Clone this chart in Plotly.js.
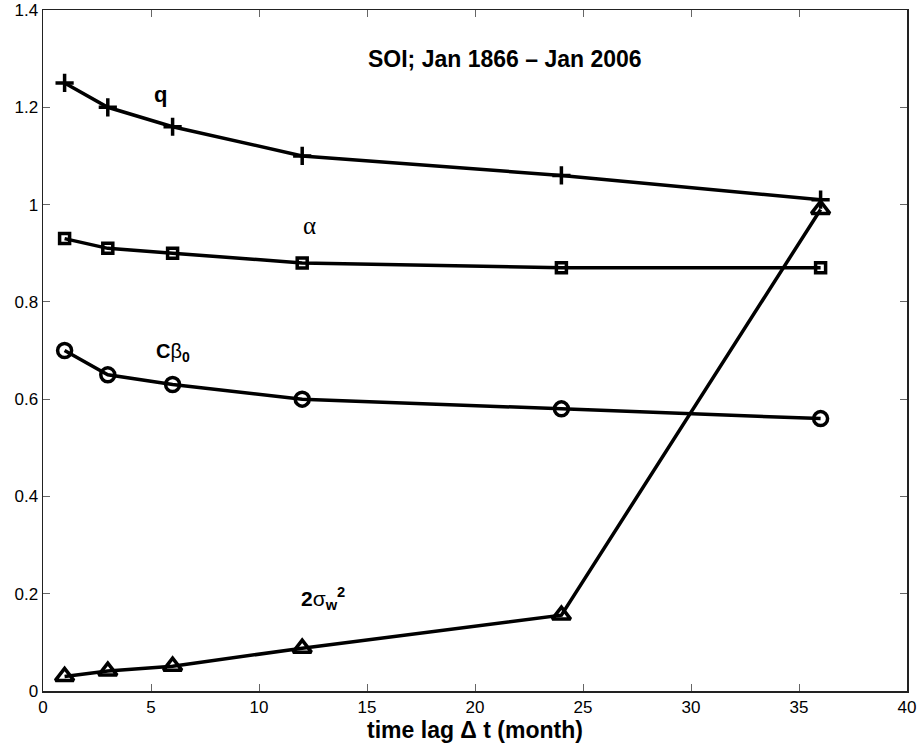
<!DOCTYPE html>
<html><head><meta charset="utf-8">
<script src="https://cdn.plot.ly/plotly-3.0.1.min.js"></script>
<style>html,body{margin:0;padding:0;background:#fff}#plot{width:923px;height:753px}</style>
</head><body><div id="plot"></div>
<script>
const lags = [1, 3, 6, 12, 24, 36];
const qVals = [1.25, 1.20, 1.16, 1.10, 1.06, 1.01];
const alphaVals = [0.93, 0.91, 0.90, 0.88, 0.87, 0.87];
const cbetaVals = [0.70, 0.65, 0.63, 0.60, 0.58, 0.56];
const sigmaVals = [0.03, 0.041, 0.051, 0.088, 0.156, 0.99];

const FONT = 'Liberation Sans, Arial, Helvetica, sans-serif';
const SERIF = 'Liberation Serif, Times New Roman, serif';
function series(y, sym, size) {
  return {x: lags, y: y, type: 'scatter', mode: 'lines+markers',
    line: {color: '#000', width: 3.5},
    marker: {symbol: sym, size: size, color: '#000', line: {color: '#000', width: 3.5}},
    showlegend: false, cliponaxis: false};
}
const data = [
  series(qVals, 'cross-thin', 13),
  series(alphaVals, 'square-open', 10),
  series(cbetaVals, 'circle-open', 14),
  series(sigmaVals, 'triangle-up-open', 16)
];
const ann = (x, y, text, size, fam) => ({x, y, xref: 'x', yref: 'y', text, showarrow: false,
  font: {family: fam || FONT, size: size, color: '#000'}});
const layout = {
  width: 923, height: 753,
  margin: {l: 43, r: 16, t: 10, b: 62},
  paper_bgcolor: '#fff', plot_bgcolor: '#fff',
  font: {family: FONT, size: 17, color: '#000'},
  xaxis: {range: [0, 40], dtick: 5, tick0: 0, ticks: 'inside', ticklen: 7, tickcolor: '#666',
    showline: true, linecolor: '#222', linewidth: 1.5, mirror: 'ticks', showgrid: false, zeroline: false,
    tickfont: {size: 17, family: FONT},
    title: {text: '<b>time lag Δ t (month)</b>', font: {size: 23, family: FONT}, standoff: 2}},
  yaxis: {range: [0, 1.4], dtick: 0.2, tick0: 0, ticks: 'inside', ticklen: 7, tickcolor: '#666',
    showline: true, linecolor: '#222', linewidth: 1.5, mirror: 'ticks', showgrid: false, zeroline: false,
    tickfont: {size: 17, family: FONT}},
  annotations: [
    ann(21.41, 1.299, '<b>SOI; Jan 1866 – Jan 2006</b>', 23),
    ann(5.42, 1.226, '<b>q</b>', 22),
    ann(12.36, 0.956, 'α', 25, SERIF),
    ann(6.0, 0.695, '<b>C</b>β<sub><b>0</b></sub>', 20),
    ann(12.96, 0.19, '<b>2</b>σ<sub><b>w</b></sub><sup><b>2</b></sup>', 21)
  ]
};
Plotly.newPlot('plot', data, layout, {staticPlot: true, displayModeBar: false});
</script></body></html>
